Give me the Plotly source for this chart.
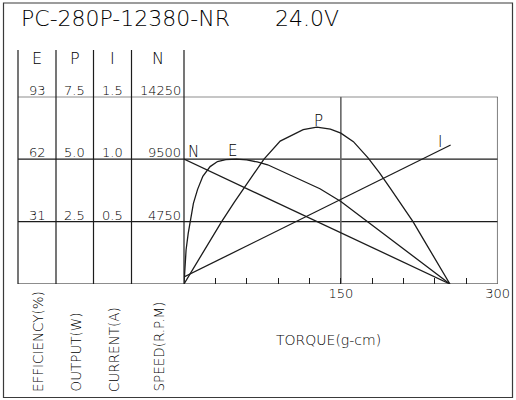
"""
Motor performance sheet: PC-280P-12380-NR at 24.0 V.

Efficiency, output power, current and speed against load torque,
drawn in the style of a datasheet with the scale table on the left.
Each curve sits on its own hidden y axis so the four scales share one grid.
"""

import plotly.graph_objects as go

W, H = 516, 400
FONT = "DejaVu Sans"
WEIGHT = 200
INK = "#1c1c1c"
TEXT_INK = "#000000"

TITLE_MODEL = "PC-280P-12380-NR"
TITLE_VOLTAGE = "24.0V"

# torque axis (g-cm)
TORQUE_TICKS = [30, 60, 90, 120, 150, 180, 210, 240, 270, 300]
TORQUE_LABELS = ["", "", "", "", "150", "", "", "", "", "300"]

# scale table, one column per quantity
E_SCALE = [31, 62, 93]
P_SCALE = [2.5, 5.0, 7.5]
I_SCALE = [0.5, 1.0, 1.5]
N_SCALE = [4750, 9500, 14250]

# efficiency (%)
E_TORQUE = [0, 2, 4, 6, 9, 13, 18, 25, 32, 40, 50, 60, 70, 80, 90, 100,
            115, 130, 150, 170, 190, 210, 230, 254.3]
E_VALUES = [0, 17, 25, 32, 40, 47, 53.5, 58.3, 60.8, 61.8, 62, 61.6, 60.6,
            59.2, 56.8, 54.5, 51.2, 47.3, 41, 33.2, 25.4, 17.6, 9.8, 0]

# output (W)
P_TORQUE = [0, 12, 24, 36, 48, 60, 76.5, 92, 101, 114, 127, 140, 150, 162,
            176, 187, 197, 208, 219, 230, 242, 254.3]
P_VALUES = [0, 0.85, 1.68, 2.5, 3.27, 4.0, 5.0, 5.72, 5.92, 6.18, 6.28, 6.2,
            6.04, 5.7, 5.05, 4.45, 3.85, 3.2, 2.5, 1.72, 0.88, 0]

# current (A)
I_TORQUE = [0, 255]
I_VALUES = [0.056, 1.113]

# speed (r.p.m)
N_TORQUE = [0, 254.3]
N_VALUES = [9500, 0]


def px(x):
    return x / W


def py(y):
    return 1 - y / H


PLOT_X0, PLOT_X1 = 184, 497.7
PLOT_Y0, PLOT_Y1 = 284, 96.7
TABLE_X = [18, 56, 93.5, 131.5, 184]
TABLE_TOP = 50


def line(x0, y0, x1, y1, xref="paper", yref="paper", color=INK, width=1.2):
    return dict(type="line", x0=x0, y0=y0, x1=x1, y1=y1, xref=xref, yref=yref,
                line=dict(color=color, width=width), layer="below")


def text(s, x, y, size, xanchor="center", yanchor="middle", yref="paper", angle=0):
    return dict(text=s, x=x, y=y, xref="paper", yref=yref, showarrow=False,
                xanchor=xanchor, yanchor=yanchor, textangle=angle,
                font=dict(family=FONT, size=size, color=TEXT_INK, weight=WEIGHT),
                borderpad=0)


fig = go.Figure()
curve = dict(mode="lines", line=dict(color=INK, width=1.3), hoverinfo="skip", showlegend=False)
fig.add_trace(go.Scatter(x=E_TORQUE, y=E_VALUES, yaxis="y", name="E", **curve))
fig.add_trace(go.Scatter(x=P_TORQUE, y=P_VALUES, yaxis="y2", name="P", **curve))
fig.add_trace(go.Scatter(x=I_TORQUE, y=I_VALUES, yaxis="y3", name="I", **curve))
fig.add_trace(go.Scatter(x=N_TORQUE, y=N_VALUES, yaxis="y4", name="N", **curve))

shapes = [
    dict(type="rect", x0=px(3.5), x1=px(512.5), y0=py(3), y1=py(397.5),
         xref="paper", yref="paper", line=dict(color="#3a3a3a", width=1.2)),
]
for x in TABLE_X:
    shapes.append(line(px(x), py(TABLE_TOP), px(x), py(PLOT_Y0)))
for v in [0] + E_SCALE:
    shapes.append(line(px(TABLE_X[0]), v, px(PLOT_X1), v, yref="y"))
shapes.append(line(150, 0, 150, E_SCALE[-1], xref="x", yref="y", color="#666", width=1.6))
shapes.append(line(300, 0, 300, E_SCALE[-1], xref="x", yref="y", color="#555", width=1.5))

col_mid = [(a + b) / 2 for a, b in zip(TABLE_X[:-1], TABLE_X[1:])]
annotations = [
    text(TITLE_MODEL, px(20), py(19), 22, xanchor="left"),
    text(TITLE_VOLTAGE, px(274), py(19), 22, xanchor="left"),
]
for label, x in zip(["E", "P", "I", "N"], col_mid):
    annotations.append(text(label, px(x), py(59), 16))

for vals, axis, x, fmt in [(E_SCALE, "y", col_mid[0], "{:.0f}"),
                           (P_SCALE, "y2", col_mid[1], "{:.1f}"),
                           (I_SCALE, "y3", col_mid[2], "{:.1f}")]:
    for v in vals:
        a = text(fmt.format(v), px(x), v, 13, yanchor="bottom", yref=axis)
        a["yshift"] = -2
        annotations.append(a)
for v in N_SCALE:
    a = text(f"{v}", px(182), v, 13, xanchor="right", yanchor="bottom", yref="y4")
    a["yshift"] = -2
    annotations.append(a)

for label, x in zip(["EFFICIENCY(%)", "OUTPUT(W)", "CURRENT(A)", "SPEED(R.P.M)"],
                    [37.5, 75, 113.5, 158.5]):
    annotations.append(text(label, px(x), py(393), 13.5, yanchor="bottom", angle=-90))

annotations.append(text("TORQUE(g-cm)", px(328.5), py(340), 14))

# curve names
annotations.append(text("N", px(193), py(152), 15))
annotations.append(text("E", px(232.5), py(151), 15))
annotations.append(text("P", px(318), py(121), 15))
annotations.append(text("I", px(439.5), py(142.5), 15))

# autoexpand off: otherwise the "300" label pushes the right margin and squeezes the sheet
hidden = dict(visible=False, fixedrange=True, automargin=False)
fig.update_layout(
    width=W, height=H, autosize=False,
    margin=dict(l=0, r=0, t=0, b=0, pad=0, autoexpand=False),
    paper_bgcolor="white", plot_bgcolor="white",
    xaxis=dict(domain=[px(PLOT_X0), px(PLOT_X1)], range=[0, 300], fixedrange=True,
               automargin=False,
               tickvals=TORQUE_TICKS, ticktext=TORQUE_LABELS,
               ticks="inside", ticklen=6, tickwidth=1.2, tickcolor=INK,
               showgrid=False, zeroline=False, showline=False,
               tickfont=dict(family=FONT, size=13, color=TEXT_INK, weight=WEIGHT)),
    yaxis=dict(domain=[py(PLOT_Y0), py(PLOT_Y1)], range=[0, 93], **hidden),
    yaxis2=dict(overlaying="y", range=[0, 7.5], **hidden),
    yaxis3=dict(overlaying="y", range=[0, 1.5], **hidden),
    yaxis4=dict(overlaying="y", range=[0, 14250], **hidden),
    shapes=shapes,
    annotations=annotations,
)

# the default page keeps the browser's 8px body margin; drop it so the sheet fills the window
fig.write_html(
    "out.html",
    config={"displayModeBar": False},
    post_script="document.body.style.margin = '0';",
)
